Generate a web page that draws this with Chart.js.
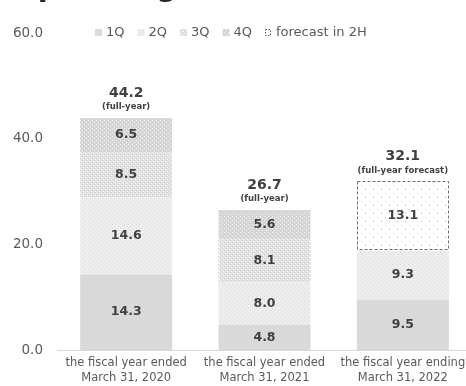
<!DOCTYPE html>
<html>
<head>
<meta charset="utf-8">
<script src="https://cdn.jsdelivr.net/npm/chart.js@4"></script>
<style>
  body { margin: 0; background: #fff; overflow: hidden; }
  #wrap { width: 474px; height: 386px; overflow: hidden; }
</style>
</head>
<body>
<div id="wrap"><canvas id="chart" width="474" height="386"></canvas></div>
<script>
// data
const categories = [
  ['the fiscal year ended', 'March 31, 2020'],
  ['the fiscal year ended', 'March 31, 2021'],
  ['the fiscal year ending', 'March 31, 2022']
];
const q1 = [14.3, 4.8, 9.5];
const q2 = [14.6, 8.0, 9.3];
const q3 = [8.5, 8.1, null];
const q4 = [6.5, 5.6, null];
const forecast2H = [null, null, 13.1];
const totals = ['44.2', '26.7', '32.1'];
const totalNotes = ['(full-year)', '(full-year)', '(full-year forecast)'];
const seriesNames = ['1Q', '2Q', '3Q', '4Q', 'forecast in 2H'];
const yTicks = [0, 20, 40, 60];

const FONT = "'DejaVu Sans'";

// little tiled patterns like the office-style fills
function pattern(size, bg, dots) {
  const c = document.createElement('canvas');
  c.width = size; c.height = size;
  const g = c.getContext('2d');
  g.fillStyle = bg;
  g.fillRect(0, 0, size, size);
  dots.forEach(d => {
    g.fillStyle = d[2];
    g.fillRect(d[0], d[1], 1, 1);
  });
  return g.createPattern(c, 'repeat');
}
const ctx = document.getElementById('chart').getContext('2d');
const fill1 = '#d9d9d9';
const fill2 = pattern(4, '#eeeeee', [[0, 0, '#d8d8d8'], [2, 2, '#d8d8d8']]);
const fill3 = pattern(4, '#e2e2e2', [[1, 1, '#fafafa'], [3, 3, '#fafafa'], [0, 2, '#cfcfcf'], [2, 0, '#cfcfcf']]);
const fill4 = pattern(4, '#d5d5d5', [[0, 0, '#f4f4f4'], [2, 2, '#f4f4f4']]);
const fill5 = pattern(8, '#ffffff', [[1, 1, '#c4c4c4'], [5, 5, '#c4c4c4']]);
const fills = [fill1, fill2, fill3, fill4, fill5];

const titlePlugin = {
  id: 'cutTitle',
  beforeDraw(chart) {
    const c = chart.ctx;
    c.save();
    c.fillStyle = '#262626';
    c.font = 'bold 29px ' + FONT;
    c.textBaseline = 'alphabetic';
    c.fillText('Operating income', 13, -4);
    c.restore();
  }
};

const labelPlugin = {
  id: 'barLabels',
  afterDatasetsDraw(chart) {
    const c = chart.ctx;
    c.save();
    // dashed outline round the forecast block
    const fm = chart.getDatasetMeta(4);
    fm.data.forEach((el, i) => {
      if (forecast2H[i] == null) return;
      const p = el.getProps(['x', 'y', 'base', 'width'], true);
      c.strokeStyle = '#6f6f6f';
      c.lineWidth = 1;
      c.setLineDash([3, 2]);
      c.strokeRect(Math.round(p.x - p.width / 2) + 0.5, Math.round(p.y) + 0.5,
        Math.round(p.width) - 1, Math.round(p.base - p.y) - 1);
    });
    c.setLineDash([]);

    // values in each block
    c.fillStyle = '#404040';
    c.textAlign = 'center';
    c.textBaseline = 'middle';
    c.font = 'bold 12.5px ' + FONT;
    chart.data.datasets.forEach((ds, di) => {
      const meta = chart.getDatasetMeta(di);
      meta.data.forEach((el, i) => {
        if (ds.data[i] == null) return;
        const p = el.getProps(['x', 'y', 'base'], true);
        c.fillText(ds.data[i].toFixed(1), p.x, (p.y + p.base) / 2);
      });
    });

    // totals above each bar
    categories.forEach((cat, i) => {
      let top = Infinity, x = 0;
      chart.data.datasets.forEach((ds, di) => {
        if (ds.data[i] == null) return;
        const el = chart.getDatasetMeta(di).data[i];
        top = Math.min(top, el.y);
        x = el.x;
      });
      c.font = 'bold 14px ' + FONT;
      c.fillText(totals[i], x, top - 25);
      c.font = 'bold 8.5px ' + FONT;
      c.fillText(totalNotes[i], x, top - 11);
    });

    // legend
    c.textAlign = 'left';
    c.font = '13px ' + FONT;
    let lx = 95;
    const ly = 33;
    seriesNames.forEach((name, i) => {
      if (i < 4) {
        c.fillStyle = fills[i];
        c.fillRect(lx, ly - 4, 7, 7);
      } else {
        c.fillStyle = '#fff';
        c.fillRect(lx, ly - 4, 6, 7);
        c.strokeStyle = '#595959';
        c.setLineDash([1.5, 1.5]);
        c.strokeRect(lx + 0.5, ly - 3.5, 5, 6);
        c.setLineDash([]);
      }
      c.fillStyle = '#595959';
      c.fillText(name, lx + 11, ly);
      lx += 11 + c.measureText(name).width + 13;
    });
    c.restore();
  }
};

function ds(label, data, fill) {
  return {
    label: label,
    data: data,
    backgroundColor: fill,
    borderWidth: 0,
    barPercentage: 0.665,
    categoryPercentage: 1
  };
}

function draw() {
  new Chart(ctx, {
    type: 'bar',
    data: {
      labels: categories,
      datasets: [
        ds(seriesNames[0], q1, fill1),
        ds(seriesNames[1], q2, fill2),
        ds(seriesNames[2], q3, fill3),
        ds(seriesNames[3], q4, fill4),
        ds(seriesNames[4], forecast2H, fill5)
      ]
    },
    options: {
      responsive: false,
      animation: false,
      devicePixelRatio: 1,
      layout: { padding: { top: 33, right: 2, left: 0, bottom: 0 } },
      plugins: {
        legend: { display: false },
        tooltip: { enabled: false }
      },
      scales: {
        x: {
          stacked: true,
          grid: { display: false, drawTicks: false },
          border: { display: true, color: '#d9d9d9', width: 1 },
          ticks: {
            color: '#595959',
            font: { family: FONT, size: 11.5, lineHeight: 1.25 },
            padding: 6,
            maxRotation: 0,
            autoSkip: false
          },
          afterFit(s) { s.height = 36; }
        },
        y: {
          stacked: true,
          min: yTicks[0],
          max: yTicks[yTicks.length - 1],
          grid: { display: false, drawTicks: false },
          border: { display: false },
          afterBuildTicks(s) { s.ticks = yTicks.map(v => ({ value: v })); },
          ticks: {
            color: '#595959',
            font: { family: FONT, size: 13.5 },
            padding: 14,
            callback: v => v.toFixed(1)
          },
          afterFit(s) { s.width = 57; }
        }
      }
    },
    plugins: [titlePlugin, labelPlugin]
  });
}

Promise.all([
  document.fonts.load("13px 'DejaVu Sans'"),
  document.fonts.load("bold 13px 'DejaVu Sans'")
]).then(draw, draw);
</script>
</body>
</html>
